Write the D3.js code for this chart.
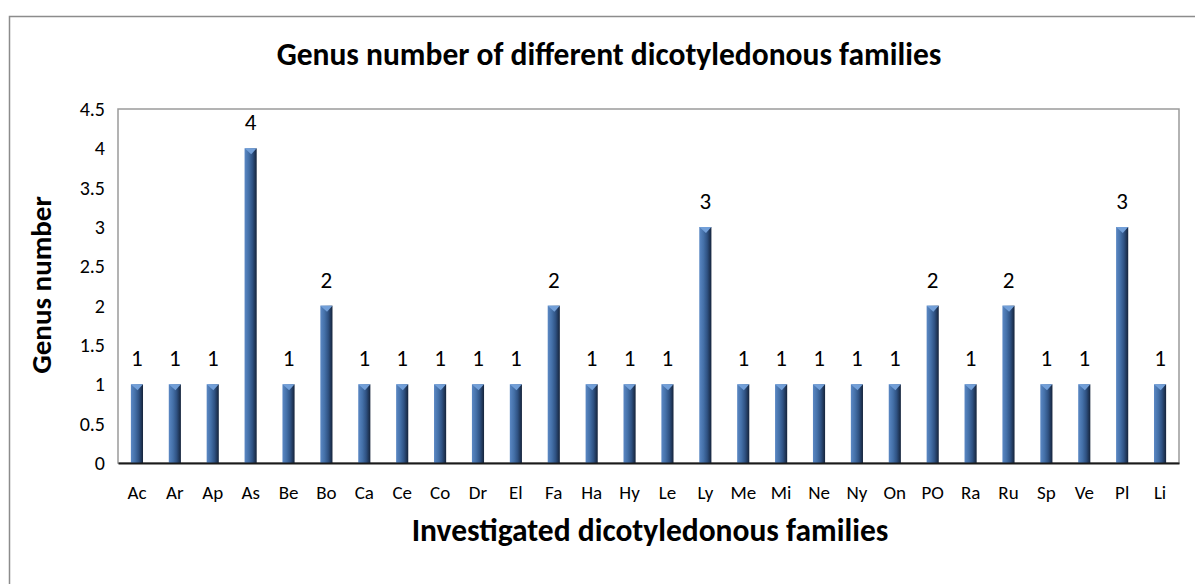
<!DOCTYPE html>
<html>
<head>
<meta charset="utf-8">
<script src="https://cdn.jsdelivr.net/npm/d3@7"></script>
<style>
  body { margin: 0; background: #fff; }
  text { font-family: Carlito, Lato, "Open Sans", sans-serif; fill: #000; }
</style>
</head>
<body>
<div id="chart"></div>
<script>
// family codes and genus counts
var families = ["Ac", "Ar", "Ap", "As", "Be", "Bo", "Ca", "Ce", "Co", "Dr", "El", "Fa", "Ha", "Hy",
  "Le", "Ly", "Me", "Mi", "Ne", "Ny", "On", "PO", "Ra", "Ru", "Sp", "Ve", "Pl", "Li"];
var genusCount = [1, 1, 1, 4, 1, 2, 1, 1, 1, 1, 1, 2, 1, 1, 1, 3, 1, 1, 1, 1, 1, 2, 1, 2, 1, 1, 3, 1];
var yTicks = [0, 0.5, 1, 1.5, 2, 2.5, 3, 3.5, 4, 4.5];

var width = 1195;
var height = 584;
var plot = { left: 118, right: 1179, top: 109, bottom: 463 };

var svg = d3.select("#chart")
  .append("svg")
  .attr("width", width)
  .attr("height", height);

// bar gradient, light on the left, dark on the right
var grad = svg.append("defs").append("linearGradient")
  .attr("id", "barGrad")
  .attr("x1", "0%").attr("x2", "100%").attr("y1", "0%").attr("y2", "0%");
grad.append("stop").attr("offset", "0%").attr("stop-color", "#5b88c4");
grad.append("stop").attr("offset", "35%").attr("stop-color", "#4470a8");
grad.append("stop").attr("offset", "65%").attr("stop-color", "#2f5283");
grad.append("stop").attr("offset", "100%").attr("stop-color", "#15233a");

// outer chart frame (runs off the right and bottom)
svg.append("path")
  .attr("d", "M9.5," + (height + 5) + "V16.5H" + (width + 5))
  .attr("fill", "none")
  .attr("stroke", "#8c8c8c")
  .attr("stroke-width", 1.5);

var x = d3.scaleBand()
  .domain(families)
  .range([plot.left, plot.right])
  .paddingInner(0.68)
  .paddingOuter(0.34);

var y = d3.scaleLinear()
  .domain([0, 4.5])
  .range([plot.bottom, plot.top]);

// plot area border
svg.append("rect")
  .attr("x", plot.left)
  .attr("y", plot.top)
  .attr("width", plot.right - plot.left)
  .attr("height", plot.bottom - plot.top)
  .attr("fill", "none")
  .attr("stroke", "#9a9a9a")
  .attr("stroke-width", 1.5);

// bars
var bars = svg.selectAll("g.bar")
  .data(genusCount)
  .enter()
  .append("g")
  .attr("class", "bar");

bars.append("rect")
  .attr("x", function(d, i) { return x(families[i]); })
  .attr("y", function(d) { return y(d); })
  .attr("width", x.bandwidth())
  .attr("height", function(d) { return plot.bottom - y(d); })
  .attr("fill", "url(#barGrad)");

// little bevel on the bar top
bars.append("path")
  .attr("d", function(d, i) {
    var x0 = x(families[i]), w = x.bandwidth(), t = y(d);
    return "M" + x0 + "," + t + "H" + (x0 + w) + "L" + (x0 + w * 0.55) + "," + (t + 6) + "Z";
  })
  .attr("fill", "#729fd8");

// value labels
bars.append("text")
  .text(function(d) { return d; })
  .attr("x", function(d, i) { return x(families[i]) + x.bandwidth() / 2; })
  .attr("y", function(d) { return y(d) - 18; })
  .attr("font-size", "23px")
  .attr("text-anchor", "middle");

// x axis
var xAxis = svg.append("g")
  .attr("transform", "translate(0," + plot.bottom + ")")
  .call(d3.axisBottom(x).tickSize(0).tickPadding(23));
xAxis.select(".domain").attr("stroke", "#1a1a1a").attr("stroke-width", 2);
xAxis.selectAll("text").attr("font-size", "19px");

// y axis
var yAxis = svg.append("g")
  .attr("transform", "translate(" + plot.left + ",0)")
  .call(d3.axisLeft(y).tickValues(yTicks).tickSize(0).tickPadding(13)
    .tickFormat(function(d) { return String(d); }));
yAxis.select(".domain").remove();
yAxis.selectAll("text").attr("font-size", "20px");

// titles
svg.append("text")
  .text("Genus number of different dicotyledonous families")
  .attr("x", 609)
  .attr("y", 65)
  .attr("text-anchor", "middle")
  .attr("font-size", "31.5px")
  .attr("font-weight", "bold");

svg.append("text")
  .text("Investigated dicotyledonous families")
  .attr("x", 650)
  .attr("y", 541)
  .attr("text-anchor", "middle")
  .attr("font-size", "31.5px")
  .attr("font-weight", "bold");

svg.append("text")
  .text("Genus number")
  .attr("transform", "translate(51,285) rotate(-90)")
  .attr("text-anchor", "middle")
  .attr("font-size", "29px")
  .attr("font-weight", "bold");
</script>
</body>
</html>
